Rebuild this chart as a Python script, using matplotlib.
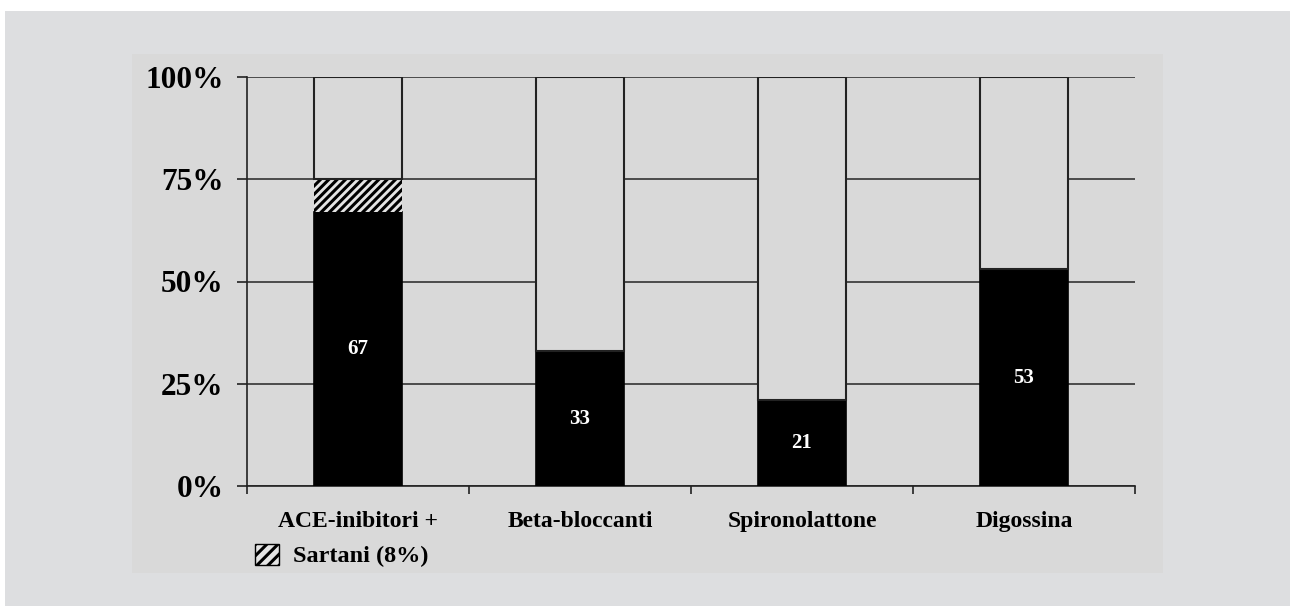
import matplotlib
matplotlib.use('Agg')
import matplotlib.pyplot as plt
from matplotlib.patches import Rectangle, Patch
import numpy as np

# data (percent of patients)
categories = ['ACE-inibitori +', 'Beta-bloccanti', 'Spironolattone', 'Digossina']
treated = [67, 33, 21, 53]
sartani = [8, 0, 0, 0]
yticks = [0, 25, 50, 75, 100]
ylabels = ['0%', '25%', '50%', '75%', '100%']

outer_bg = '#dddee0'
panel_bg = '#d9d9d9'
plt.rcParams['font.family'] = ['Liberation Serif', 'DejaVu Serif']
plt.rcParams['hatch.linewidth'] = 2.2

fig = plt.figure(figsize=(12.9, 6.06), dpi=100, facecolor='white')
# grey page and inner panel behind the chart
fig.patches.append(Rectangle((5/1290, 0), 1, 595/606, transform=fig.transFigure,
                             facecolor=outer_bg, edgecolor='none', zorder=-10))
fig.patches.append(Rectangle((132/1290, 33/606), 1031/1290, 519/606, transform=fig.transFigure,
                             facecolor=panel_bg, edgecolor='none', zorder=-9))

ax = fig.add_axes([247/1290, 120/606, 888/1290, 409/606])
ax.set_facecolor('none')

x = np.arange(len(categories))
treated = np.array(treated)
sartani = np.array(sartani)
rest = 100 - treated - sartani

ax.bar(x, treated, width=0.4, color='black', edgecolor='black', linewidth=1.2, zorder=3)
ax.bar(x, sartani, width=0.4, bottom=treated, color='#e4e4e4', edgecolor='black',
       hatch='////', linewidth=0, zorder=3)
ax.bar(x, rest, width=0.4, bottom=treated + sartani, color=panel_bg, edgecolor='#222222',
       linewidth=1.5, zorder=3)

for xi, v in zip(x, treated):
    ax.text(xi, v / 2, str(v), color='white', ha='center', va='center',
            fontsize=15, fontweight='bold', zorder=4)

ax.set_xlim(-0.5, 3.5)
ax.set_ylim(0, 100)
ax.set_yticks(yticks)
ax.set_yticklabels(ylabels, fontsize=22.5, fontweight='bold')
ax.tick_params(axis='y', length=7, width=1.2, color='#222222', pad=10)
ax.yaxis.grid(True, color='#333333', linewidth=1.2, zorder=0)
ax.set_axisbelow(True)

ax.set_xticks(x)
ax.set_xticklabels(categories, fontsize=17, fontweight='bold')
ax.tick_params(axis='x', which='major', length=0, pad=18)
ax.set_xticks(np.arange(-0.5, 4, 1), minor=True)
ax.tick_params(axis='x', which='minor', length=6, width=1.2, color='#222222', direction='out')

for s in ['top', 'right']:
    ax.spines[s].set_visible(False)
for s in ['left', 'bottom']:
    ax.spines[s].set_color('#222222')
    ax.spines[s].set_linewidth(1.2)

# hatched key under the first category
leg = ax.legend(handles=[Patch(facecolor='#e4e4e4', edgecolor='black', hatch='///', label='Sartani (8%)')],
                loc='center', bbox_to_anchor=(0.107, -0.17), frameon=False, handlelength=0.95,
                handleheight=0.95, handletextpad=0.6, prop={'size': 17.5, 'weight': 'bold'})

fig.savefig('out.png', dpi=100, facecolor=fig.get_facecolor())
